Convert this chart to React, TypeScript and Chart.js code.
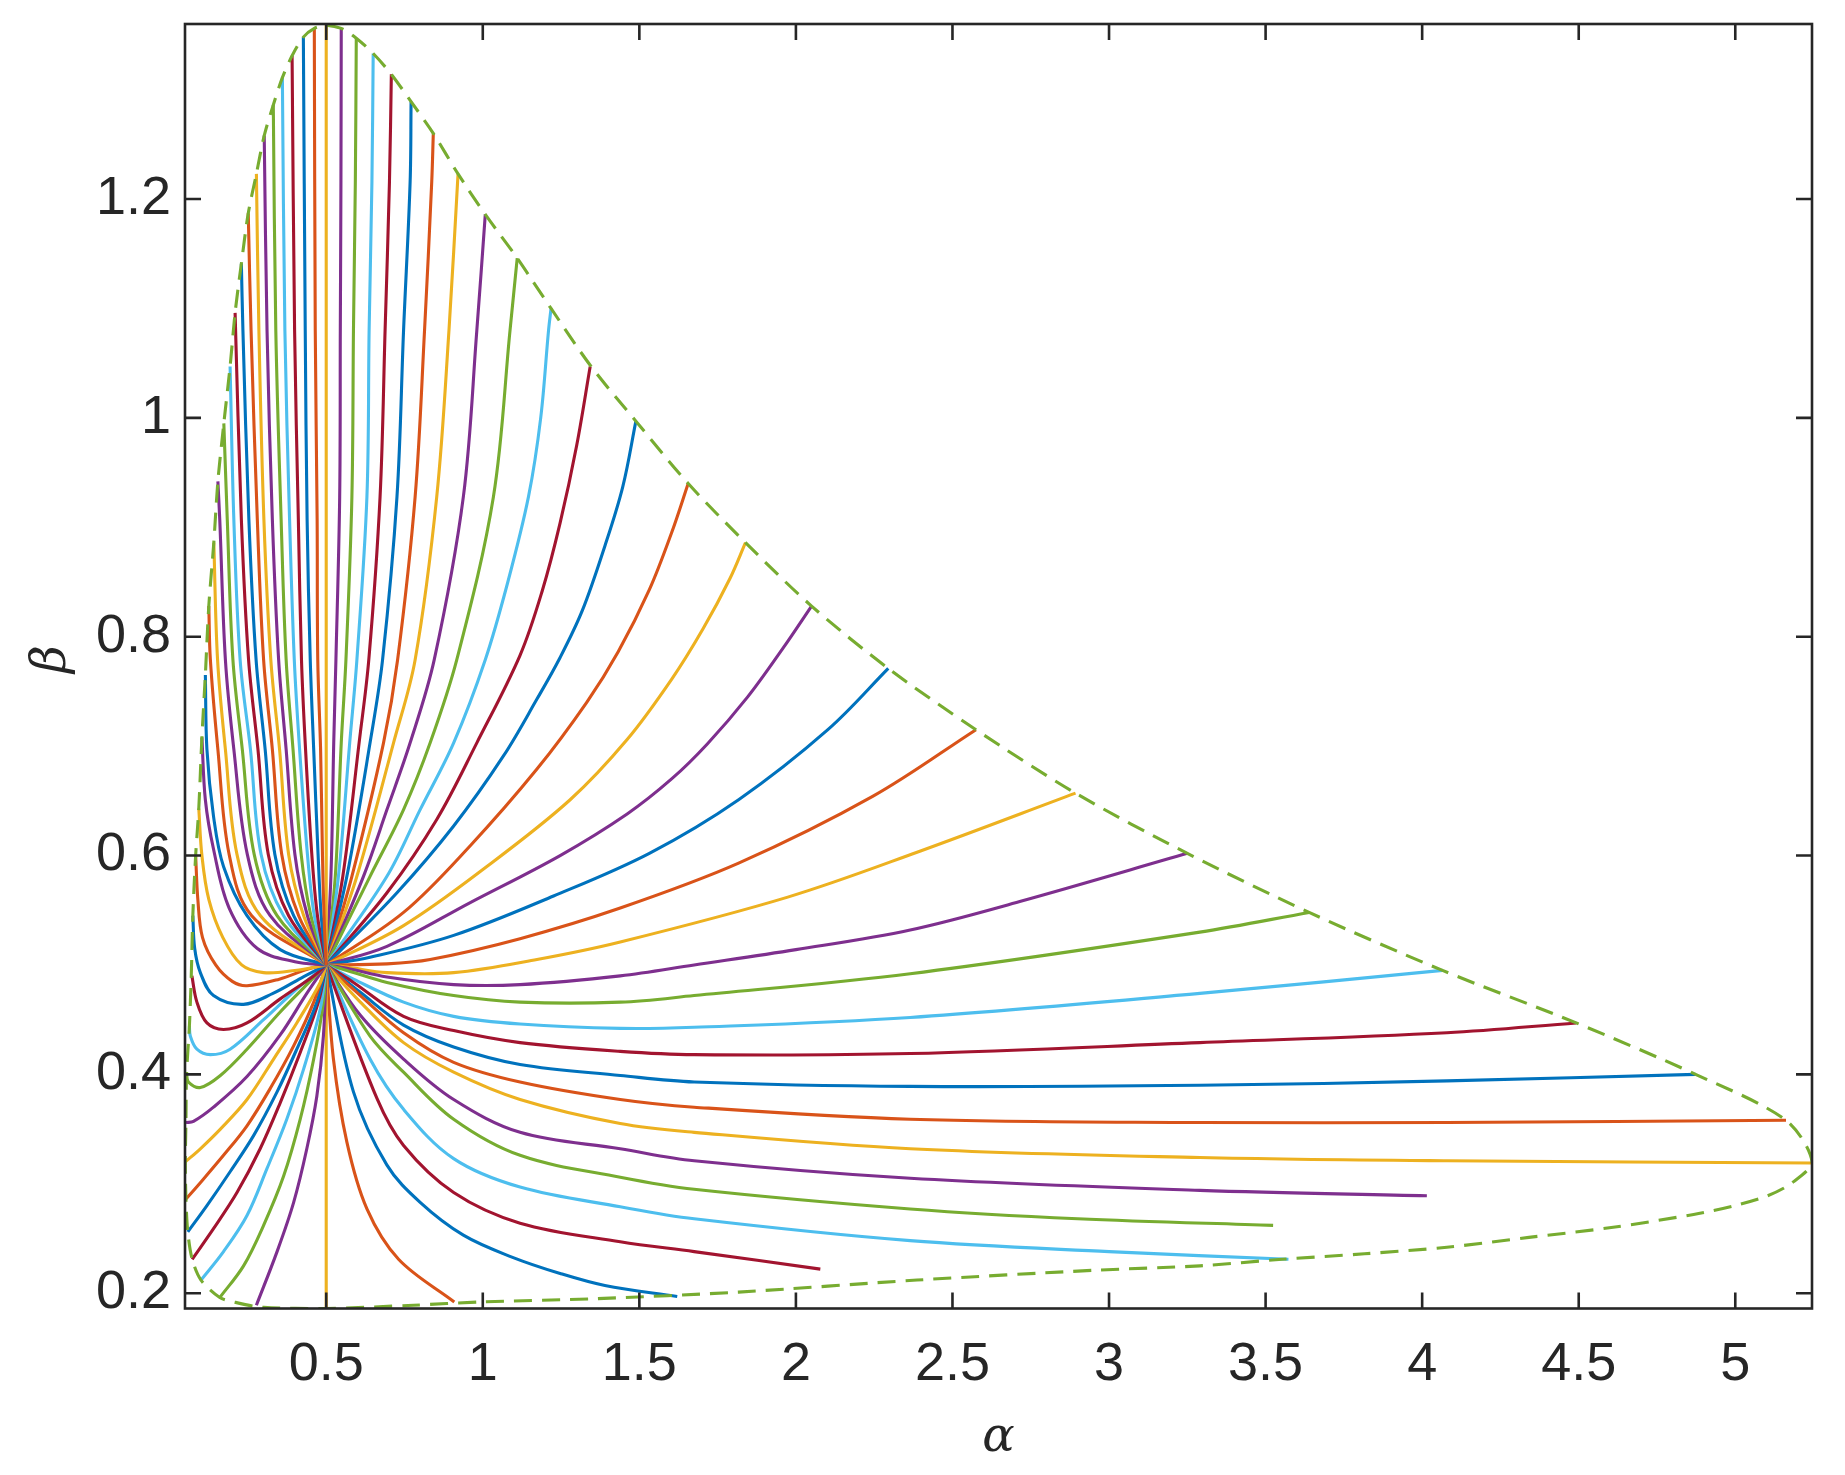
import React, { useEffect, useRef } from 'react';
import { Chart, registerables } from 'chart.js';

Chart.register(...registerables);

// MATLAB default colour order
const BLUE = '#0072BD';
const ORANGE = '#D95319';
const YELLOW = '#EDB120';
const PURPLE = '#7E2F8E';
const GREEN = '#77AC30';
const CYAN = '#4DBEEE';
const DARKRED = '#A2142F';

const X_MIN = 0.049;
const X_MAX = 5.245;
const Y_MIN = 0.186;
const Y_MAX = 1.36;
const X_TICKS = [0.5, 1, 1.5, 2, 2.5, 3, 3.5, 4, 4.5, 5];
const Y_TICKS = [0.2, 0.4, 0.6, 0.8, 1, 1.2];

// each curve listed from the common point (0.5, 0.5) outward: [alpha, beta]
// ---- upper-left family ----
const L01 = [[0.5, 0.5], [0.493, 0.545], [0.488, 0.601], [0.482, 0.697], [0.473, 0.779], [0.471, 0.907], [0.465, 1.08], [0.462, 1.356]];
const L02 = [[0.5, 0.5], [0.484, 0.545], [0.474, 0.601], [0.46, 0.697], [0.449, 0.779], [0.439, 0.907], [0.433, 1.08], [0.427, 1.348]];
const L03 = [[0.5, 0.5], [0.472, 0.545], [0.454, 0.601], [0.434, 0.697], [0.421, 0.779], [0.411, 0.907], [0.399, 1.08], [0.391, 1.331]];
const L04 = [[0.5, 0.5], [0.462, 0.545], [0.44, 0.601], [0.415, 0.697], [0.398, 0.779], [0.383, 0.907], [0.368, 1.08], [0.36, 1.311]];
const L05 = [[0.5, 0.5], [0.451, 0.545], [0.42, 0.601], [0.394, 0.697], [0.372, 0.779], [0.356, 0.907], [0.339, 1.08], [0.331, 1.286]];
const L06 = [[0.5, 0.5], [0.44, 0.545], [0.4, 0.601], [0.372, 0.697], [0.348, 0.779], [0.328, 0.907], [0.311, 1.08], [0.302, 1.258]];
const L07 = [[0.5, 0.5], [0.428, 0.545], [0.38, 0.601], [0.351, 0.697], [0.323, 0.779], [0.301, 0.907], [0.285, 1.08], [0.277, 1.223]];
const L08 = [[0.5, 0.5], [0.412, 0.545], [0.358, 0.601], [0.328, 0.697], [0.3, 0.779], [0.28, 0.907], [0.26, 1.08], [0.251, 1.187]];
const L09 = [[0.5, 0.5], [0.396, 0.545], [0.336, 0.601], [0.305, 0.697], [0.276, 0.779], [0.253, 0.907], [0.234, 1.08], [0.229, 1.141]];
const L10 = [[0.5, 0.5], [0.38, 0.545], [0.315, 0.601], [0.282, 0.697], [0.252, 0.779], [0.229, 0.907], [0.209, 1.096]];
const L11 = [[0.5, 0.5], [0.364, 0.545], [0.292, 0.601], [0.258, 0.697], [0.225, 0.779], [0.205, 0.907], [0.193, 1.047]];
const L12 = [[0.5, 0.5], [0.343, 0.545], [0.27, 0.601], [0.232, 0.697], [0.202, 0.779], [0.184, 0.907], [0.173, 0.995]];
const L13 = [[0.5, 0.5], [0.321, 0.545], [0.248, 0.601], [0.205, 0.697], [0.178, 0.779], [0.16, 0.907], [0.154, 0.942]];
const L14 = [[0.5, 0.5], [0.29, 0.545], [0.215, 0.601], [0.178, 0.697], [0.153, 0.779], [0.141, 0.886]];
const L15 = [[0.5, 0.5], [0.262, 0.545], [0.19, 0.601], [0.154, 0.697], [0.13, 0.779], [0.125, 0.828]];
const L16 = [[0.5, 0.5], [0.353, 0.514], [0.247, 0.545], [0.172, 0.59], [0.14, 0.636], [0.119, 0.697], [0.114, 0.765]];
const L17 = [[0.5, 0.5], [0.4, 0.503], [0.28, 0.515], [0.19, 0.552], [0.14, 0.606], [0.114, 0.651], [0.103, 0.708]];
// ---- left family (dip then rise to the left edge) ----
const L18 = [[0.5, 0.5], [0.4, 0.495], [0.3, 0.493], [0.23, 0.5], [0.17, 0.525], [0.125, 0.56], [0.103, 0.6], [0.093, 0.643]];
const L19 = [[0.5, 0.5], [0.44, 0.496], [0.35, 0.487], [0.247, 0.481], [0.2, 0.485], [0.147, 0.5], [0.105, 0.525], [0.09, 0.56], [0.083, 0.6]];
const L20 = [[0.5, 0.5], [0.42, 0.488], [0.33, 0.474], [0.236, 0.464], [0.14, 0.472], [0.098, 0.493], [0.08, 0.515], [0.074, 0.545]];
const L21 = [[0.5, 0.5], [0.46, 0.49], [0.353, 0.469], [0.247, 0.447], [0.172, 0.441], [0.119, 0.447], [0.087, 0.466], [0.071, 0.49]];
const L22 = [[0.5, 0.5], [0.406, 0.478], [0.3, 0.45], [0.193, 0.423], [0.13, 0.418], [0.087, 0.423], [0.066, 0.435], [0.063, 0.444]];
const L23 = [[0.5, 0.5], [0.438, 0.482], [0.353, 0.457], [0.247, 0.423], [0.162, 0.399], [0.098, 0.388], [0.06, 0.393], [0.054, 0.4]];
// ---- lower-left family ----
const L24 = [[0.5, 0.5], [0.438, 0.474], [0.353, 0.436], [0.247, 0.398], [0.14, 0.37], [0.076, 0.357], [0.052, 0.356]];
const L25 = [[0.5, 0.5], [0.481, 0.484], [0.406, 0.447], [0.332, 0.414], [0.247, 0.377], [0.162, 0.35], [0.098, 0.332], [0.05, 0.32]];
const L26 = [[0.5, 0.5], [0.46, 0.466], [0.396, 0.426], [0.321, 0.387], [0.247, 0.353], [0.172, 0.326], [0.098, 0.301], [0.052, 0.286]];
const L27 = [[0.5, 0.5], [0.47, 0.466], [0.406, 0.423], [0.343, 0.384], [0.268, 0.344], [0.193, 0.311], [0.119, 0.28], [0.058, 0.256]];
const L28 = [[0.5, 0.5], [0.475, 0.466], [0.417, 0.42], [0.353, 0.374], [0.289, 0.332], [0.215, 0.292], [0.14, 0.259], [0.072, 0.231]];
const L29 = [[0.5, 0.5], [0.481, 0.46], [0.428, 0.405], [0.374, 0.359], [0.311, 0.314], [0.247, 0.271], [0.172, 0.238], [0.1, 0.212]];
const L30 = [[0.5, 0.5], [0.491, 0.466], [0.46, 0.414], [0.417, 0.359], [0.364, 0.307], [0.3, 0.262], [0.236, 0.225], [0.16, 0.196]];
const L31 = [[0.5, 0.5], [0.491, 0.435], [0.47, 0.38], [0.438, 0.332], [0.396, 0.283], [0.343, 0.238], [0.277, 0.189]];
// ---- vertical line alpha = 0.5 ----
const V00 = [[0.5, 0.186], [0.5, 1.359]];
// ---- lower-right family ----
const R01 = [[0.5, 0.5], [0.523, 0.414], [0.566, 0.338], [0.63, 0.277], [0.731, 0.231], [0.909, 0.192]];
const R02 = [[0.5, 0.5], [0.587, 0.384], [0.694, 0.317], [0.8, 0.283], [0.938, 0.253], [1.093, 0.233], [1.247, 0.218], [1.39, 0.207], [1.621, 0.197]];
const R03 = [[0.5, 0.5], [0.662, 0.378], [0.747, 0.335], [0.907, 0.292], [1.119, 0.264], [1.439, 0.247], [1.675, 0.238], [2.078, 0.222]];
const R04 = [[0.5, 0.5], [0.64, 0.414], [0.747, 0.368], [0.907, 0.323], [1.119, 0.297], [1.439, 0.279], [1.675, 0.268], [2.365, 0.248], [3.0, 0.238], [3.573, 0.231]];
const R05 = [[0.5, 0.5], [0.64, 0.435], [0.747, 0.402], [0.907, 0.359], [1.119, 0.326], [1.439, 0.306], [1.675, 0.295], [2.365, 0.277], [2.9, 0.268], [3.524, 0.262]];
const R06 = [[0.5, 0.5], [0.609, 0.454], [0.747, 0.414], [0.907, 0.377], [1.119, 0.347], [1.439, 0.332], [1.675, 0.321], [2.365, 0.305], [3.29, 0.294], [4.015, 0.289]];
const R07 = [[0.5, 0.5], [0.609, 0.466], [0.747, 0.429], [0.907, 0.402], [1.119, 0.377], [1.439, 0.355], [1.675, 0.347], [2.365, 0.332], [3.29, 0.324], [4.079, 0.321], [5.245, 0.319]];
const R08 = [[0.5, 0.5], [0.609, 0.472], [0.747, 0.438], [0.907, 0.411], [1.119, 0.393], [1.439, 0.377], [1.675, 0.37], [2.365, 0.359], [3.29, 0.356], [4.079, 0.356], [5.162, 0.358]];
const R09 = [[0.5, 0.5], [0.609, 0.475], [0.747, 0.445], [0.907, 0.425], [1.119, 0.409], [1.439, 0.399], [1.675, 0.393], [2.365, 0.389], [3.29, 0.39], [4.079, 0.394], [4.873, 0.4]];
const R10 = [[0.5, 0.5], [0.587, 0.484], [0.747, 0.453], [0.907, 0.44], [1.119, 0.429], [1.439, 0.421], [1.675, 0.418], [2.365, 0.419], [3.29, 0.429], [4.079, 0.438], [4.492, 0.447]];
const R11 = [[0.5, 0.5], [0.587, 0.487], [0.747, 0.466], [0.907, 0.453], [1.119, 0.446], [1.439, 0.442], [1.675, 0.443], [2.365, 0.452], [3.29, 0.474], [4.065, 0.495]];
const R12 = [[0.5, 0.5], [0.566, 0.495], [0.694, 0.484], [0.907, 0.472], [1.119, 0.466], [1.439, 0.466], [1.675, 0.472], [2.365, 0.492], [3.29, 0.53], [3.639, 0.548]];
// ---- upper-right family ----
const R13 = [[0.5, 0.5], [0.566, 0.497], [0.694, 0.489], [0.907, 0.482], [1.119, 0.482], [1.439, 0.49], [1.675, 0.5], [2.0, 0.514], [2.365, 0.532], [2.715, 0.558], [3.25, 0.602]];
const R14 = [[0.5, 0.5], [0.566, 0.498], [0.694, 0.493], [0.907, 0.493], [1.173, 0.505], [1.439, 0.521], [1.974, 0.562], [2.387, 0.603], [2.893, 0.657]];
const R15 = [[0.5, 0.5], [0.694, 0.501], [0.832, 0.505], [1.119, 0.524], [1.439, 0.552], [1.817, 0.593], [2.245, 0.654], [2.575, 0.715]];
const R16 = [[0.5, 0.5], [0.64, 0.507], [0.907, 0.527], [1.226, 0.563], [1.532, 0.602], [1.817, 0.651], [2.102, 0.715], [2.295, 0.771]];
const R17 = [[0.5, 0.5], [0.694, 0.517], [0.96, 0.557], [1.247, 0.6], [1.461, 0.638], [1.603, 0.67], [1.717, 0.702], [1.846, 0.745], [1.96, 0.79], [2.05, 0.828]];
const R18 = [[0.5, 0.5], [0.747, 0.536], [1.013, 0.59], [1.279, 0.651], [1.461, 0.706], [1.603, 0.761], [1.703, 0.807], [1.789, 0.853], [1.839, 0.886]];
const R19 = [[0.5, 0.5], [0.747, 0.548], [0.96, 0.609], [1.173, 0.679], [1.332, 0.74], [1.432, 0.786], [1.532, 0.843], [1.603, 0.895], [1.656, 0.94]];
const R20 = [[0.5, 0.5], [0.726, 0.566], [0.907, 0.627], [1.066, 0.691], [1.173, 0.743], [1.247, 0.781], [1.318, 0.824], [1.39, 0.883], [1.447, 0.937], [1.489, 0.997]];
const R21 = [[0.5, 0.5], [0.694, 0.566], [0.853, 0.633], [0.981, 0.703], [1.119, 0.783], [1.19, 0.842], [1.247, 0.904], [1.3, 0.975], [1.343, 1.047]];
const R22 = [[0.5, 0.5], [0.694, 0.581], [0.8, 0.642], [0.907, 0.703], [1.008, 0.779], [1.08, 0.85], [1.146, 0.928], [1.185, 1.0], [1.21, 1.08], [1.218, 1.1]];
const R23 = [[0.5, 0.5], [0.64, 0.581], [0.747, 0.642], [0.832, 0.703], [0.917, 0.779], [1.034, 0.928], [1.087, 1.08], [1.11, 1.146]];
const R24 = [[0.5, 0.5], [0.619, 0.581], [0.694, 0.642], [0.768, 0.703], [0.845, 0.779], [0.938, 0.928], [0.981, 1.08], [1.008, 1.186]];
const R25 = [[0.5, 0.5], [0.598, 0.581], [0.715, 0.703], [0.784, 0.779], [0.853, 0.928], [0.892, 1.08], [0.921, 1.223]];
const R26 = [[0.5, 0.5], [0.582, 0.581], [0.683, 0.703], [0.728, 0.779], [0.784, 0.928], [0.814, 1.08], [0.837, 1.216], [0.842, 1.26]];
const R27 = [[0.5, 0.5], [0.566, 0.581], [0.64, 0.703], [0.68, 0.779], [0.726, 0.928], [0.747, 1.08], [0.768, 1.216], [0.771, 1.289]];
const R28 = [[0.5, 0.5], [0.553, 0.581], [0.605, 0.703], [0.636, 0.779], [0.672, 0.928], [0.688, 1.08], [0.702, 1.216], [0.708, 1.314]];
const R29 = [[0.5, 0.5], [0.539, 0.581], [0.575, 0.703], [0.598, 0.779], [0.63, 0.928], [0.637, 1.08], [0.646, 1.216], [0.65, 1.333]];
const R30 = [[0.5, 0.5], [0.529, 0.581], [0.548, 0.703], [0.563, 0.779], [0.582, 0.928], [0.587, 1.08], [0.593, 1.216], [0.596, 1.347]];
const R31 = [[0.5, 0.5], [0.515, 0.581], [0.524, 0.703], [0.531, 0.779], [0.543, 0.928], [0.545, 1.08], [0.547, 1.216], [0.548, 1.356]];

// dashed boundary, clockwise from the top
const BOUNDARY = [
  [0.5, 1.359], [0.548, 1.356], [0.596, 1.347], [0.65, 1.333], [0.708, 1.314], [0.771, 1.289], [0.842, 1.26],
  [0.921, 1.223], [1.008, 1.186], [1.11, 1.146], [1.218, 1.1], [1.346, 1.047], [1.489, 0.997], [1.656, 0.94],
  [1.839, 0.886], [2.05, 0.828], [2.295, 0.771], [2.575, 0.715], [2.893, 0.657], [3.25, 0.602], [3.639, 0.548],
  [4.065, 0.495], [4.492, 0.447], [4.873, 0.4], [5.162, 0.358], [5.245, 0.32], [5.182, 0.301], [5.103, 0.289],
  [4.998, 0.28], [4.867, 0.272], [4.604, 0.26], [4.341, 0.251], [4.079, 0.242], [3.816, 0.236], [3.553, 0.231],
  [3.29, 0.225], [2.957, 0.221], [2.387, 0.212], [1.817, 0.201], [1.364, 0.195], [0.992, 0.192], [0.779, 0.189],
  [0.5, 0.186], [0.3, 0.187], [0.204, 0.192], [0.16, 0.196], [0.1, 0.212], [0.072, 0.231], [0.058, 0.256],
  [0.052, 0.286], [0.05, 0.32], [0.052, 0.356], [0.054, 0.4], [0.063, 0.444], [0.069, 0.49], [0.074, 0.545],
  [0.083, 0.6], [0.093, 0.643], [0.103, 0.708], [0.114, 0.765], [0.125, 0.828], [0.141, 0.886], [0.154, 0.942],
  [0.173, 0.995], [0.193, 1.047], [0.209, 1.096], [0.229, 1.141], [0.251, 1.187], [0.277, 1.223], [0.302, 1.258],
  [0.331, 1.286], [0.36, 1.311], [0.391, 1.331], [0.427, 1.348], [0.462, 1.356], [0.5, 1.359],
];

const CURVES = [
  { pts: L01, color: ORANGE }, { pts: L02, color: BLUE }, { pts: L03, color: DARKRED }, { pts: L04, color: CYAN },
  { pts: L05, color: GREEN }, { pts: L06, color: PURPLE }, { pts: L07, color: YELLOW }, { pts: L08, color: ORANGE },
  { pts: L09, color: BLUE }, { pts: L10, color: DARKRED }, { pts: L11, color: CYAN }, { pts: L12, color: GREEN },
  { pts: L13, color: PURPLE }, { pts: L14, color: YELLOW }, { pts: L15, color: ORANGE }, { pts: L16, color: BLUE },
  { pts: L17, color: PURPLE }, { pts: L18, color: YELLOW }, { pts: L19, color: ORANGE }, { pts: L20, color: BLUE },
  { pts: L21, color: DARKRED }, { pts: L22, color: CYAN }, { pts: L23, color: GREEN }, { pts: L24, color: PURPLE },
  { pts: L25, color: YELLOW }, { pts: L26, color: ORANGE }, { pts: L27, color: BLUE }, { pts: L28, color: DARKRED },
  { pts: L29, color: CYAN }, { pts: L30, color: GREEN }, { pts: L31, color: PURPLE }, { pts: V00, color: YELLOW },
  { pts: R01, color: ORANGE }, { pts: R02, color: BLUE }, { pts: R03, color: DARKRED }, { pts: R04, color: CYAN },
  { pts: R05, color: GREEN }, { pts: R06, color: PURPLE }, { pts: R07, color: YELLOW }, { pts: R08, color: ORANGE },
  { pts: R09, color: BLUE }, { pts: R10, color: DARKRED }, { pts: R11, color: CYAN }, { pts: R12, color: GREEN },
  { pts: R13, color: PURPLE }, { pts: R14, color: YELLOW }, { pts: R15, color: ORANGE }, { pts: R16, color: BLUE },
  { pts: R17, color: PURPLE }, { pts: R18, color: YELLOW }, { pts: R19, color: ORANGE }, { pts: R20, color: BLUE },
  { pts: R21, color: DARKRED }, { pts: R22, color: CYAN }, { pts: R23, color: GREEN }, { pts: R24, color: PURPLE },
  { pts: R25, color: YELLOW }, { pts: R26, color: ORANGE }, { pts: R27, color: BLUE }, { pts: R28, color: DARKRED },
  { pts: R29, color: CYAN }, { pts: R30, color: GREEN }, { pts: R31, color: PURPLE },
];

const AXIS_COLOR = '#262626';
const TICK_FONT = '"Liberation Sans", Arial, sans-serif';

const framePlugin = {
  id: 'matlabFrame',
  afterDraw(chart: any) {
    const { ctx, chartArea: a, scales } = chart;
    const TL = 16;
    ctx.save();
    ctx.strokeStyle = AXIS_COLOR;
    ctx.lineWidth = 2.6;
    ctx.beginPath();
    X_TICKS.forEach((v) => {
      const px = scales.x.getPixelForValue(v);
      ctx.moveTo(px, a.bottom);
      ctx.lineTo(px, a.bottom - TL);
      ctx.moveTo(px, a.top);
      ctx.lineTo(px, a.top + TL);
    });
    Y_TICKS.forEach((v) => {
      const py = scales.y.getPixelForValue(v);
      ctx.moveTo(a.left, py);
      ctx.lineTo(a.left + TL, py);
      ctx.moveTo(a.right, py);
      ctx.lineTo(a.right - TL, py);
    });
    ctx.stroke();
    ctx.strokeRect(a.left, a.top, a.right - a.left, a.bottom - a.top);

    ctx.fillStyle = AXIS_COLOR;
    ctx.font = 'italic 48px "DejaVu Serif", serif';
    ctx.textAlign = 'center';
    ctx.textBaseline = 'middle';
    ctx.fillText('α', (a.left + a.right) / 2, a.bottom + 130);
    ctx.translate(53, 659);
    ctx.rotate(-Math.PI / 2);
    ctx.fillText('β', 0, 0);
    ctx.restore();
  },
};

export default function App() {
  const canvasRef = useRef<HTMLCanvasElement | null>(null);

  useEffect(() => {
    const canvas = canvasRef.current;
    if (!canvas) return;
    const datasets: any[] = [
      {
        data: BOUNDARY.map(([x, y]) => ({ x, y })),
        borderColor: GREEN,
        borderWidth: 3.1,
        borderDash: [18, 10],
        showLine: true,
        pointRadius: 0,
        tension: 0.3,
        order: 0,
      },
      ...CURVES.map((c) => ({
        data: c.pts.map(([x, y]) => ({ x, y })),
        borderColor: c.color,
        borderWidth: 3.1,
        showLine: true,
        pointRadius: 0,
        tension: 0.35,
        order: 1,
      })),
    ];

    const chart = new Chart(canvas, {
      type: 'scatter',
      data: { datasets },
      plugins: [framePlugin],
      options: {
        responsive: false,
        animation: false,
        events: [],
        layout: { padding: { left: 0, top: 24, right: 33, bottom: 0 } },
        plugins: { legend: { display: false }, tooltip: { enabled: false } },
        scales: {
          x: {
            type: 'linear',
            min: X_MIN,
            max: X_MAX,
            grid: { display: false, drawTicks: false },
            border: { display: false },
            afterBuildTicks: (scale: any) => {
              scale.ticks = X_TICKS.map((v) => ({ value: v }));
            },
            afterFit: (scale: any) => {
              scale.height = 166.5;
              scale.paddingLeft = 0;
              scale.paddingRight = 0;
            },
            ticks: {
              autoSkip: false,
              maxRotation: 0,
              minRotation: 0,
              padding: 24,
              color: AXIS_COLOR,
              font: { family: TICK_FONT, size: 54 },
              callback: (v: any) => String(v),
            },
          },
          y: {
            type: 'linear',
            min: Y_MIN,
            max: Y_MAX,
            grid: { display: false, drawTicks: false },
            border: { display: false },
            afterBuildTicks: (scale: any) => {
              scale.ticks = Y_TICKS.map((v) => ({ value: v }));
            },
            afterFit: (scale: any) => {
              scale.width = 185;
              scale.paddingTop = 0;
              scale.paddingBottom = 0;
            },
            ticks: {
              autoSkip: false,
              padding: 14,
              color: AXIS_COLOR,
              font: { family: TICK_FONT, size: 54 },
              callback: (v: any) => String(v),
            },
          },
        },
      },
    });
    return () => chart.destroy();
  }, []);

  return (
    <div style={{ position: 'fixed', left: 0, top: 0, width: 1845, height: 1475, background: '#ffffff' }}>
      <canvas ref={canvasRef} width={1845} height={1475} style={{ width: 1845, height: 1475 }} />
    </div>
  );
}
